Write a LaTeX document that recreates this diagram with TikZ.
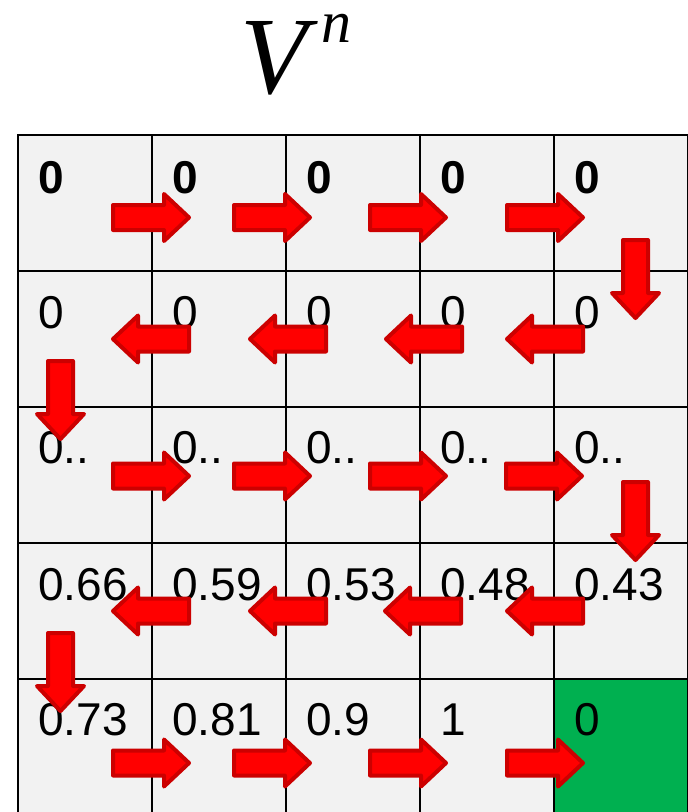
\documentclass[tikz,border=0pt]{standalone}
\usepackage{fontspec}
\setmainfont{Liberation Sans}
\newfontfamily\serifit{Liberation Serif}
\definecolor{cellgrey}{HTML}{F2F2F2}
\definecolor{cellgreen}{HTML}{00B050}
\definecolor{arrowred}{HTML}{FF0000}
\definecolor{arrowdark}{HTML}{CC0000}
\begin{document}
\begin{tikzpicture}[x=1pt,y=-1pt,
  cellbox/.style={draw=black,line width=2.5pt,fill=cellgrey,minimum width=134pt,minimum height=136pt,inner sep=0pt,outer sep=0pt,anchor=north west},
  valtext/.style={anchor=base west,inner sep=0pt,font=\fontsize{46}{50}\selectfont},
  arrowshape/.style={fill=arrowred,draw=arrowdark,line width=4pt,line join=round},
  rarrow/.pic={\path[arrowshape] (2,-12.5) -- (53,-12.5) -- (53,-23.5) -- (78,0) -- (53,23.5) -- (53,12.5) -- (2,12.5) -- cycle;},
  larrow/.pic={\path[arrowshape] (2,0) -- (27,-23.5) -- (27,-12.5) -- (78,-12.5) -- (78,12.5) -- (27,12.5) -- (27,23.5) -- cycle;},
  darrow/.pic={\path[arrowshape] (-12.5,2) -- (12.5,2) -- (12.5,55) -- (23.5,55) -- (0,80) -- (-23.5,55) -- (-12.5,55) -- cycle;}]
\useasboundingbox (0,0) rectangle (688,812);
\clip (0,0) rectangle (688,812);
% title
\node[anchor=base west,inner sep=0pt,font=\fontsize{110}{110}\selectfont\serifit\itshape] (V) at (240,93) {V};
\node[anchor=base west,inner sep=0pt,font=\fontsize{60}{60}\selectfont\serifit\itshape] (n) at (321,42) {n};
% cells
\foreach \r in {0,...,4} {
  \foreach \c in {0,...,4} {
    \ifnum\r\c=44
      \node[cellbox,fill=cellgreen] (c\r\c) at ({18+134*\c},{135+136*\r}) {};
    \else
      \node[cellbox] (c\r\c) at ({18+134*\c},{135+136*\r}) {};
    \fi
  }
}
% values
\foreach \c in {0,...,4}
  \node[valtext,font=\fontsize{46}{50}\selectfont\bfseries] (t0\c) at ([xshift=20pt,yshift=-58pt]c0\c.north west) {0};
\foreach \c in {0,...,4}
  \node[valtext] (t1\c) at ([xshift=20pt,yshift=-57pt]c1\c.north west) {0};
\foreach \c in {0,...,4}
  \node[valtext] (t2\c) at ([xshift=20pt,yshift=-56pt]c2\c.north west) {0..};
\foreach \v [count=\c from 0] in {0.66,0.59,0.53,0.48,0.43}
  \node[valtext] (t3\c) at ([xshift=20pt,yshift=-57pt]c3\c.north west) {\v};
\foreach \v [count=\c from 0] in {0.73,0.81,0.9,1,0}
  \node[valtext] (t4\c) at ([xshift=20pt,yshift=-56pt]c4\c.north west) {\v};
% arrows
\foreach \x in {111,232,368,505} \pic at (\x,217.5) {rarrow};
\foreach \x in {111,248,384,505} \pic at (\x,339) {larrow};
\foreach \x in {111,232,368,504} \pic at (\x,476) {rarrow};
\foreach \x in {111,248,383,505} \pic at (\x,611) {larrow};
\foreach \x in {111,232,368,505} \pic at (\x,763) {rarrow};
\pic at (635.5,238) {darrow};
\pic at (60.5,359) {darrow};
\pic at (635.5,480) {darrow};
\pic at (60.5,631) {darrow};
\end{tikzpicture}
\end{document}
